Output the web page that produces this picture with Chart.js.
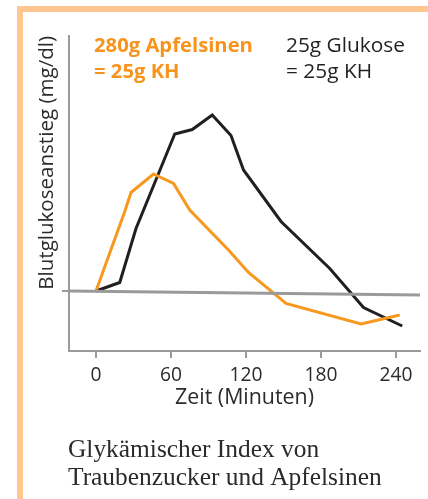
<!DOCTYPE html>
<html><head><meta charset="utf-8">
<script src="https://cdn.jsdelivr.net/npm/chart.js@4/dist/chart.umd.min.js"></script>
<style>
html,body{margin:0;padding:0;background:#fff;}
#wrap{position:relative;width:428px;height:499px;overflow:hidden;background:#fff;}
#frame{position:absolute;left:17px;top:6px;width:600px;height:700px;border-left:6px solid #FFC78F;border-top:6px solid #FFC78F;}
canvas{position:absolute;left:0;top:0;}
</style></head><body>
<div id="wrap"><div id="frame"></div><canvas id="c" width="428" height="499"></canvas></div>
<script>
// Data (minutes, rise in blood glucose — arbitrary units)
const timeTicks = [0, 60, 120, 180, 240];
const glucoseTime = [0, 19, 32, 63, 77, 93, 108, 118, 148, 187, 214, 245];
const glucoseRise = [0, 1.7, 12.5, 31.4, 32.3, 35.2, 31.1, 24.2, 13.9, 4.5, -3.3, -7];
const orangeTime = [0, 23, 28, 46, 62, 75, 106, 122, 152, 212, 243];
const orangeRise = [0, 15.9, 19.7, 23.4, 21.5, 16.2, 8.2, 3.7, -2.5, -6.6, -4.8];
const baselineTime = [-21.6, 259.2];
const baselineRise = [0, -0.8];
const legendOrange = ['280g Apfelsinen', '= 25g KH'];
const legendBlack = ['25g Glukose', '= 25g KH'];
const captionLines = ['Glykämischer Index von', 'Traubenzucker und Apfelsinen'];
const xTitle = 'Zeit (Minuten)';
const yTitle = 'Blutglukoseanstieg (mg/dl)';

const pts = (xs, ys) => xs.map((x, i) => ({x: x, y: ys[i]}));
const SANS = '"Open Sans", "Noto Sans", sans-serif';
const SERIF = '"Liberation Serif", "DejaVu Serif", serif';

const mctx = document.createElement('canvas').getContext('2d');
function fitSize(ctx, text, weight, family, targetW) {
  ctx.font = weight + ' 100px ' + family;
  return 100 * targetW / ctx.measureText(text).width;
}
const tickSize = fitSize(mctx, '240', 'normal', SANS, 33);
const xTitleSize = fitSize(mctx, xTitle, 'normal', SANS, 139);
const yTitleSize = fitSize(mctx, yTitle, 'normal', SANS, 254);

const textPlugin = {
  id: 'texts',
  afterDraw(chart) {
    const ctx = chart.ctx;
    ctx.save();
    ctx.textBaseline = 'alphabetic';
    ctx.textAlign = 'left';
    let s = fitSize(ctx, legendOrange[0], 'bold', SANS, 159);
    ctx.font = 'bold ' + s + 'px ' + SANS;
    ctx.fillStyle = '#F7941D';
    ctx.fillText(legendOrange[0], 94, 52);
    ctx.fillText(legendOrange[1], 94, 78);
    s = fitSize(ctx, legendBlack[0], 'normal', SANS, 119);
    ctx.font = 'normal ' + s + 'px ' + SANS;
    ctx.fillStyle = '#231f20';
    ctx.fillText(legendBlack[0], 286, 52);
    ctx.fillText(legendBlack[1], 286, 78);
    s = fitSize(ctx, captionLines[1], 'normal', SERIF, 314);
    ctx.font = 'normal ' + s + 'px ' + SERIF;
    ctx.fillStyle = '#2b2b2b';
    ctx.fillText(captionLines[0], 68, 457);
    ctx.fillText(captionLines[1], 68, 485);
    ctx.restore();
  }
};

new Chart(document.getElementById('c'), {
  type: 'line',
  data: {
    datasets: [
      {label: '25g Glukose', data: pts(glucoseTime, glucoseRise), borderColor: '#231f20', borderWidth: 3, pointRadius: 0, tension: 0, order: 3},
      {label: '280g Apfelsinen', data: pts(orangeTime, orangeRise), borderColor: '#F7981F', borderWidth: 3, pointRadius: 0, tension: 0, order: 2},
      {label: 'Basis', data: pts(baselineTime, baselineRise), borderColor: '#9a9a9a', borderWidth: 3, pointRadius: 0, tension: 0, order: 1}
    ]
  },
  options: {
    responsive: false,
    animation: false,
    devicePixelRatio: 1,
    layout: {padding: {left: 28, top: 36, right: 8, bottom: 0}},
    plugins: {legend: {display: false}, tooltip: {enabled: false}},
    scales: {
      x: {
        type: 'linear', min: -21.6, max: 259.2,
        afterBuildTicks: s => { s.ticks = timeTicks.map(v => ({value: v})); },
        grid: {display: true, drawOnChartArea: false, drawTicks: true, tickLength: 7, color: '#9a9a9a', lineWidth: 2},
        border: {display: true, color: '#9a9a9a', width: 2},
        ticks: {color: '#2b2b2b', font: {family: SANS, size: tickSize}, padding: 6, maxRotation: 0, autoSkip: false},
        title: {display: true, text: xTitle, color: '#2b2b2b', font: {family: SANS, size: xTitleSize}, padding: {top: 0, bottom: 88}},
        afterFit: s => { s.height = 148; }
      },
      y: {
        min: -12, max: 51,
        afterBuildTicks: s => { s.ticks = [{value: 0}]; },
        ticks: {callback: () => '', padding: 0},
        grid: {display: true, drawOnChartArea: false, drawTicks: true, tickLength: 7, color: '#9a9a9a', lineWidth: 2},
        border: {display: true, color: '#9a9a9a', width: 2},
        title: {display: true, align: 'end', text: yTitle, color: '#2b2b2b', font: {family: SANS, size: yTitleSize}, padding: {top: 7, bottom: 0}},
        afterFit: s => { s.width = 41; }
      }
    }
  },
  plugins: [textPlugin]
});
</script>
</body></html>
